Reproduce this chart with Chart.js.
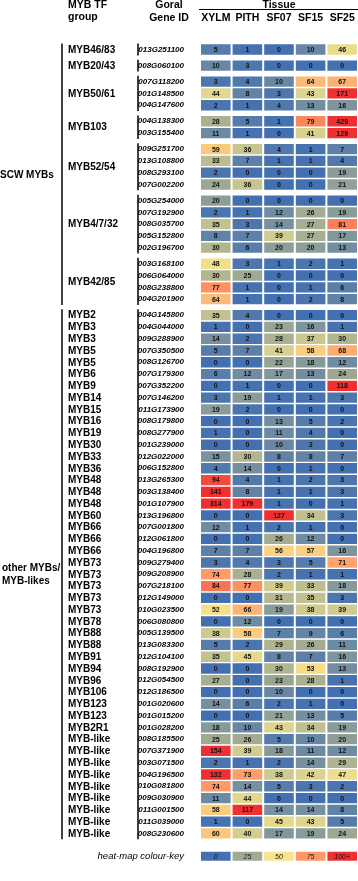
<!DOCTYPE html>
<html>
<head>
<meta charset="utf-8">
<script src="https://cdn.jsdelivr.net/npm/chart.js@4"></script>
<style>
  body { margin: 0; background: #fff; }
  #wrap { width: 358px; height: 881px; }
</style>
</head>
<body>
<div id="wrap"><canvas id="heat" width="358" height="881"></canvas></div>
<script>
const tissues = ['XYLM', 'PITH', 'SF07', 'SF15', 'SF25'];

// SCW MYB groups (rows per group)
const scwGroups = ['MYB46/83', 'MYB20/43', 'MYB50/61', 'MYB103', 'MYB52/54', 'MYB4/7/32', 'MYB42/85'];
const scwGroupSizes = [1, 1, 3, 2, 4, 5, 4];
const scwGenes = ['013G251100', '008G060100', '007G118200', '001G148500', '004G147600',
  '004G138300', '003G155400', '009G251700', '013G108800', '008G293100', '007G002200',
  '005G254000', '007G192900', '008G035700', '005G152800', '002G196700',
  '003G168100', '006G064000', '008G238800', '004G201900'];

// other MYBs / MYB-likes
const otherNames = ['MYB2', 'MYB3', 'MYB3', 'MYB5', 'MYB5', 'MYB6', 'MYB9', 'MYB14', 'MYB15',
  'MYB16', 'MYB19', 'MYB30', 'MYB33', 'MYB36', 'MYB48', 'MYB48', 'MYB48', 'MYB60', 'MYB66',
  'MYB66', 'MYB66', 'MYB73', 'MYB73', 'MYB73', 'MYB73', 'MYB73', 'MYB78', 'MYB88', 'MYB88',
  'MYB91', 'MYB94', 'MYB96', 'MYB106', 'MYB123', 'MYB123', 'MYB2R1', 'MYB-like', 'MYB-like',
  'MYB-like', 'MYB-like', 'MYB-like', 'MYB-like', 'MYB-like', 'MYB-like', 'MYB-like'];
const otherGenes = ['004G145800', '004G044000', '009G288900', '007G350500', '008G126700',
  '007G179300', '007G352200', '007G146200', '011G173900', '008G179800', '008G277900',
  '001G239000', '012G022000', '006G152800', '013G265300', '003G138400', '001G107900',
  '013G196800', '007G001800', '012G061800', '004G196800', '009G279400', '009G208900',
  '007G218100', '012G149000', '010G023500', '006G080800', '005G139500', '013G083300',
  '012G104100', '008G192900', '012G054500', '012G186500', '001G020600', '001G015200',
  '001G028200', '008G185500', '007G371900', '003G071500', '004G196500', '010G081800',
  '009G030900', '011G001500', '011G039000', '008G230600'];

// expression per tissue, SCW rows first, then other rows
const xylm = [5, 10, 3, 44, 2, 28, 11, 59, 33, 2, 24, 20, 2, 35, 8, 30, 48, 30, 77, 64,
  35, 1, 14, 5, 0, 6, 0, 3, 19, 0, 1, 0, 15, 4, 94, 141, 314, 0, 12, 0, 7, 3, 74, 84, 0,
  52, 0, 38, 5, 35, 0, 27, 0, 14, 0, 18, 25, 154, 2, 132, 74, 11, 58, 1, 60];
const pith = [1, 3, 4, 8, 1, 5, 1, 36, 7, 0, 36, 0, 1, 3, 7, 6, 3, 25, 1, 1,
  4, 0, 2, 7, 0, 12, 1, 19, 2, 0, 0, 0, 30, 14, 4, 8, 179, 0, 1, 0, 7, 4, 28, 77, 0,
  66, 12, 58, 2, 45, 0, 0, 0, 6, 0, 10, 26, 39, 1, 73, 14, 44, 117, 0, 40];
const sf07 = [0, 0, 10, 3, 4, 1, 0, 4, 1, 0, 0, 0, 12, 14, 39, 20, 1, 0, 0, 0,
  0, 23, 28, 41, 22, 17, 0, 1, 0, 13, 11, 10, 8, 0, 1, 1, 1, 127, 2, 26, 56, 3, 2, 39, 31,
  19, 0, 7, 29, 8, 30, 23, 10, 2, 21, 43, 5, 18, 2, 38, 5, 0, 14, 45, 17];
const sf15 = [10, 0, 64, 43, 13, 79, 41, 1, 1, 0, 0, 0, 26, 27, 27, 20, 2, 0, 1, 2,
  0, 16, 37, 58, 18, 13, 0, 1, 0, 5, 4, 3, 8, 1, 2, 1, 0, 34, 1, 12, 57, 5, 1, 33, 35,
  38, 0, 9, 26, 7, 53, 28, 0, 1, 13, 34, 10, 11, 14, 42, 3, 0, 14, 43, 19];
const sf25 = [46, 0, 67, 171, 16, 429, 129, 7, 4, 19, 21, 0, 19, 81, 17, 13, 1, 0, 6, 8,
  0, 1, 30, 68, 12, 24, 118, 3, 0, 2, 0, 0, 7, 0, 3, 3, 1, 3, 0, 0, 16, 71, 1, 18, 3,
  39, 0, 6, 11, 16, 13, 1, 0, 0, 5, 19, 20, 12, 29, 47, 2, 0, 8, 5, 24];

const keyValues = [0, 25, 50, 75, 100];
const keyLabels = ['0', '25', '50', '75', '100+'];

const series = [xylm, pith, sf07, sf15, sf25];
const geneIds = scwGenes.concat(otherGenes);

// colour ramp: blue -> grey-green -> yellow -> orange -> red (100+)
const stops = [[66, 112, 176], [160, 170, 146], [246, 229, 140], [255, 152, 102], [240, 48, 48]];
function heatColour(v) {
  const t = Math.min(v, 100) / 25;
  const i = Math.min(Math.floor(t), 3);
  const f = t - i;
  const a = stops[i], b = stops[i + 1];
  const c = a.map((ch, k) => Math.round(ch + (b[k] - ch) * f));
  return `rgb(${c[0]},${c[1]},${c[2]})`;
}

// row positions in row units; small gap between groups / sections
const GAP = 0.365;
const rowPos = [];
const groupSpans = [];
let pos = 0;
scwGroupSizes.forEach((n, g) => {
  if (g > 0) pos += GAP;
  groupSpans.push([pos, pos + n - 1]);
  for (let k = 0; k < n; k++) { rowPos.push(pos); pos += 1; }
});
const scwEnd = pos - 1;
pos += GAP;
const otherStart = pos;
otherNames.forEach(() => { rowPos.push(pos); pos += 1; });
const otherEnd = pos - 1;
const keyRow = otherEnd + 1.95;

const FONT = '"Liberation Sans", Arial, sans-serif';

const datasets = tissues.map((t, c) => ({
  label: t,
  data: rowPos.map((p) => ({ x: [c, c + 1], y: p })),
  backgroundColor: series[c].map(heatColour),
  borderColor: '#fff',
  borderWidth: 1,
  borderSkipped: false,
  inflateAmount: 0,
  barThickness: 12.33,
  grouped: false
}));
datasets.push({
  label: 'key',
  data: keyValues.map((v, c) => ({ x: [c, c + 1], y: keyRow })),
  backgroundColor: keyValues.map(heatColour),
  borderColor: '#fff',
  borderWidth: 1,
  borderSkipped: false,
  inflateAmount: 0,
  barThickness: 11,
  grouped: false
});

const tableText = {
  id: 'tableText',
  afterDatasetsDraw(chart) {
    const ctx = chart.ctx;
    const xs = chart.scales.x, ys = chart.scales.y;
    ctx.save();
    ctx.fillStyle = '#111';
    ctx.textAlign = 'center';
    ctx.textBaseline = 'middle';
    // numbers in the cells
    chart.data.datasets.forEach((ds, di) => {
      const meta = chart.getDatasetMeta(di);
      const isKey = di === tissues.length;
      ctx.font = (isKey ? 'italic 7px ' : 'bold 7px ') + FONT;
      meta.data.forEach((bar, i) => {
        const txt = isKey ? keyLabels[i] : String(series[di][i]);
        ctx.fillText(txt, (bar.x + bar.base) / 2, bar.y + 0.5);
      });
    });

    // header
    ctx.fillStyle = '#000';
    ctx.font = 'bold 10.5px ' + FONT;
    ctx.textBaseline = 'alphabetic';
    ctx.textAlign = 'left';
    ctx.fillText('MYB TF', 68, 8);
    ctx.fillText('group', 68, 19.5);
    ctx.textAlign = 'center';
    ctx.fillText('Goral', 169, 8);
    ctx.fillText('Gene ID', 169, 20.5);
    ctx.fillText('Tissue', (xs.left + xs.right) / 2, 7.5);
    tissues.forEach((t, c) => ctx.fillText(t, xs.getPixelForValue(c + 0.5), 20.5));
    ctx.lineWidth = 1;
    ctx.strokeStyle = '#000';
    ctx.beginPath();
    ctx.moveTo(xs.left - 1, 9.5);
    ctx.lineTo(xs.right, 9.5);
    ctx.stroke();

    // group names
    ctx.font = 'bold 10px ' + FONT;
    ctx.textAlign = 'left';
    ctx.textBaseline = 'middle';
    scwGroups.forEach((g, i) => {
      const mid = (groupSpans[i][0] + groupSpans[i][1]) / 2;
      ctx.fillText(g, 68, ys.getPixelForValue(mid) + 0.5);
    });
    otherNames.forEach((n, i) => {
      ctx.fillText(n, 68, ys.getPixelForValue(rowPos[scwGenes.length + i]) + 0.5);
    });

    // section labels
    ctx.fillText('SCW MYBs', 0, ys.getPixelForValue((0 + scwEnd) / 2) + 0.5);
    const om = ys.getPixelForValue((otherStart + otherEnd) / 2);
    ctx.fillText('other MYBs/', 2, om - 6);
    ctx.fillText('MYB-likes', 2, om + 7);

    // bracket lines
    ctx.lineWidth = 1.5;
    const vline = (x, a, b) => {
      ctx.beginPath();
      ctx.moveTo(x, ys.getPixelForValue(a - 0.5));
      ctx.lineTo(x, ys.getPixelForValue(b + 0.5));
      ctx.stroke();
    };
    vline(62, 0, scwEnd);
    vline(62, otherStart, otherEnd);
    groupSpans.forEach((s) => vline(138, s[0], s[1]));
    vline(138, otherStart, otherEnd);
    ctx.restore();
  }
};

new Chart(document.getElementById('heat'), {
  type: 'bar',
  data: { datasets },
  options: {
    indexAxis: 'y',
    responsive: false,
    animation: false,
    layout: { padding: 0 },
    plugins: { legend: { display: false }, tooltip: { enabled: false } },
    scales: {
      x: { type: 'linear', min: 0, max: 5, display: false },
      y: {
        type: 'linear',
        reverse: true,
        min: -2.49,
        max: 68.96,
        grid: { display: false },
        border: { display: false },
        afterFit(scale) { scale.width = 200; },
        afterBuildTicks(scale) {
          scale.ticks = rowPos.concat([keyRow]).map((v) => ({ value: v }));
        },
        ticks: {
          autoSkip: false,
          padding: 8,
          color: '#000',
          callback: (v, i) => (i < geneIds.length ? geneIds[i] : 'heat-map colour-key'),
          font: (c) => (c.index < geneIds.length
            ? { family: FONT, size: 8, style: 'italic', weight: 'bold' }
            : { family: FONT, size: 9.5, style: 'italic', weight: 'normal' })
        }
      }
    }
  },
  plugins: [tableText]
});
</script>
</body>
</html>
